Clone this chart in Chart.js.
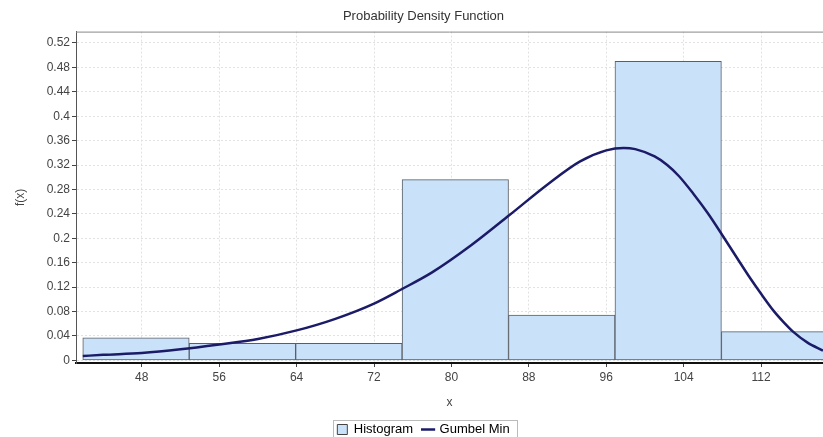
<!DOCTYPE html>
<html>
<head>
<meta charset="utf-8">
<title>Probability Density Function</title>
<script src="https://cdn.jsdelivr.net/npm/chart.js@4.4.0/dist/chart.umd.min.js"></script>
<style>
    html, body { margin: 0; padding: 0; background: #fff; overflow: hidden; }
</style>
</head>
<body>
<canvas id="grafico" width="823" height="437"></canvas>
<script>
// Histograma (centros de clase y frecuencia relativa)
const binCenters = [47.4, 58.4, 69.4, 80.4, 91.4, 102.4, 113.4];
const binHeights = [0.037, 0.028, 0.028, 0.296, 0.074, 0.490, 0.047];

// Curva Gumbel Min
const curveX = [41.9, 44, 48, 52, 56, 60, 64, 68, 72, 74.8, 78, 82, 86, 90, 93.3, 96, 97.8, 99, 101, 102.3, 103.5, 105, 106.5, 108, 109.5, 110.9, 112, 113.3, 114.3, 115.3, 116.8, 118.4];
const curveY = [0.007, 0.009, 0.012, 0.018, 0.026, 0.035, 0.049, 0.068, 0.093, 0.116, 0.144, 0.188, 0.238, 0.289, 0.326, 0.344, 0.348, 0.346, 0.334, 0.320, 0.302, 0.273, 0.241, 0.205, 0.168, 0.134, 0.109, 0.081, 0.063, 0.047, 0.029, 0.016];

const xTicks = [48, 56, 64, 72, 80, 88, 96, 104, 112];
const yTicks = [0, 0.04, 0.08, 0.12, 0.16, 0.2, 0.24, 0.28, 0.32, 0.36, 0.4, 0.44, 0.48, 0.52];

const textColor = "#444";
const fuente = "'Liberation Sans', Arial, sans-serif";
const bajoLeyenda = -9; // la leyenda queda cortada por abajo como en el original
const corteDerecho = -24; // el original es mas ancho y esta recortado a la derecha

// Borde superior del area y recuadro de la leyenda
const bordes = {
    id: "bordes",
    afterDraw(chart) {
        const ctx = chart.ctx;
        const a = chart.chartArea;
        ctx.save();
        ctx.strokeStyle = "#888";
        ctx.lineWidth = 1;
        ctx.beginPath();
        ctx.moveTo(a.left, a.top + 0.5);
        ctx.lineTo(a.right, a.top + 0.5);
        ctx.stroke();

        const cajas = chart.legend.legendHitBoxes;
        if (cajas && cajas.length) {
            const izq = Math.min(...cajas.map(c => c.left)) - 4;
            const der = Math.max(...cajas.map(c => c.left + c.width)) + 8;
            const arriba = Math.min(...cajas.map(c => c.top)) - 3;
            const abajo = Math.max(...cajas.map(c => c.top + c.height)) + 4;
            ctx.strokeStyle = "#bbb";
            ctx.strokeRect(Math.round(izq) + 0.5, Math.round(arriba) + 0.5, Math.round(der - izq), Math.round(abajo - arriba));
        }
        ctx.restore();
    }
};

new Chart(document.getElementById("grafico"), {
    data: {
        datasets: [
            {
                type: "bar",
                label: "Histogram",
                data: binCenters.map((x, i) => ({ x: x, y: binHeights[i] })),
                backgroundColor: "#c9e1f9",
                borderColor: "#5a5f66",
                borderWidth: 1,
                borderSkipped: false,
                order: 1
            },
            {
                type: "line",
                label: "Gumbel Min",
                data: curveX.map((x, i) => ({ x: x, y: curveY[i] })),
                borderColor: "#1b1b68",
                backgroundColor: "#1b1b68",
                borderWidth: 2.5,
                pointRadius: 0,
                cubicInterpolationMode: "monotone",
                fill: false,
                order: 0
            }
        ]
    },
    options: {
        responsive: false,
        animation: false,
        layout: { padding: { top: 0, left: 0, right: corteDerecho, bottom: bajoLeyenda } },
        datasets: {
            bar: { categoryPercentage: 1, barPercentage: 1, barThickness: "flex" }
        },
        plugins: {
            title: {
                display: true,
                text: "Probability Density Function",
                color: "#333",
                font: { family: fuente, size: 13, weight: "normal" },
                padding: { top: 9, bottom: 7 }
            },
            legend: {
                position: "bottom",
                labels: {
                    color: "#222",
                    font: { family: fuente, size: 13 },
                    usePointStyle: true,
                    boxWidth: 10,
                    boxHeight: 10,
                    padding: 10,
                    generateLabels: () => [
                        { text: "Histogram", pointStyle: "rect", fillStyle: "#c9e1f9", strokeStyle: "#444", lineWidth: 1, datasetIndex: 0 },
                        { text: "Gumbel Min", pointStyle: "line", fillStyle: "#1b1b68", strokeStyle: "#1b1b68", lineWidth: 2.5, datasetIndex: 1 }
                    ]
                }
            },
            tooltip: { enabled: false }
        },
        scales: {
            x: {
                type: "linear",
                offset: false,
                min: 41.2,
                max: 118.4,
                afterBuildTicks: scale => { scale.ticks = xTicks.map(v => ({ value: v })); },
                afterFit: scale => { scale.height = 437 - bajoLeyenda - 363 - scale.chart.legend.height; },
                ticks: {
                    color: textColor,
                    font: { family: fuente, size: 12 },
                    padding: 3,
                    maxRotation: 0,
                    callback: v => String(v)
                },
                grid: { offset: false, color: "#e2e2e2", tickColor: "#444", tickLength: 4, tickBorderDash: [] },
                border: { color: "#111", width: 2, dash: [2, 2] },
                title: {
                    display: true,
                    text: "x",
                    color: textColor,
                    font: { family: fuente, size: 12 },
                    padding: { top: 0, bottom: 3 }
                }
            },
            y: {
                type: "linear",
                min: -0.0044,
                max: 0.5386,
                afterBuildTicks: scale => { scale.ticks = yTicks.map(v => ({ value: v })); },
                afterFit: scale => { scale.width = 76; },
                ticks: {
                    color: textColor,
                    font: { family: fuente, size: 12 },
                    padding: 2,
                    callback: v => String(+v.toFixed(2))
                },
                grid: { color: "#e2e2e2", tickColor: "#444", tickLength: 4, tickBorderDash: [] },
                border: { color: "#555", width: 1, dash: [2, 2] },
                title: {
                    display: true,
                    text: "f(x)",
                    color: textColor,
                    font: { family: fuente, size: 12 },
                    padding: { top: 13, bottom: 0 }
                }
            }
        }
    },
    plugins: [bordes]
});
</script>
</body>
</html>
